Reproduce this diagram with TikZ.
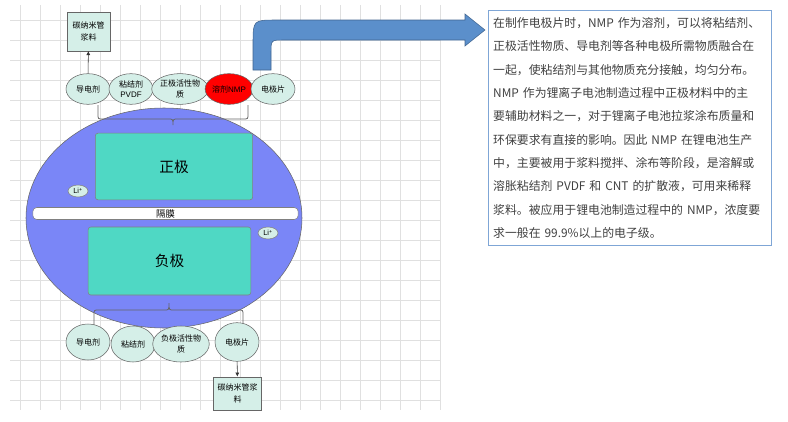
\documentclass[tikz,border=0pt]{standalone}
\usepackage{fontspec}
\setmainfont{Liberation Sans}
\newfontfamily\cjk{Noto Sans CJK SC}
\usetikzlibrary{arrows.meta,shapes.geometric}
\definecolor{pale}{HTML}{D5EFE8}
\definecolor{bigblue}{HTML}{7A86F7}
\definecolor{teal1}{HTML}{4FD8C4}
\definecolor{arrblue}{HTML}{5B8FCB}
\definecolor{boxline}{HTML}{7FA6D6}
\definecolor{txt}{HTML}{404040}
\tikzset{
  comp/.style={ellipse,draw=black!60,fill=pale,minimum width=33pt,minimum height=23pt,inner sep=0pt,font=\cjk\fontsize{6}{8}\selectfont,align=center},
  sbox/.style={rectangle,draw=black!60,fill=pale,inner sep=1pt,font=\cjk\fontsize{6}{9}\selectfont,align=center},
  elec/.style={rectangle,rounded corners=2pt,draw=black!50,fill=teal1,font=\cjk\fontsize{11}{12}\selectfont},
  li/.style={ellipse,draw=black!50,fill=pale,inner sep=0pt,minimum width=15pt,minimum height=9pt,font=\fontsize{5.5}{6}\selectfont},
  brc/.style={draw=black!60,line width=0.6pt},
  conn/.style={draw=black!80,-{Latex[length=3pt,width=3pt]}}
}
\begin{document}
\begin{tikzpicture}[x=0.75pt,y=-0.75pt]
\useasboundingbox (0,0) rectangle (788,421);
% grid
\draw[black!12,line width=0.4pt,step=15pt] (10,5) grid (440,410);
% top
\node[sbox,minimum width=32pt,minimum height=29pt] (cnt1) at (88.5,31.5) {碳纳米管\\浆料};
\node[comp] (a1) at (88,89) {导电剂};
\node[comp] (a2) at (131,89) {粘结剂\\\fontspec{Liberation Sans}PVDF};
\node[comp,minimum width=36pt] (a3) at (180,89) {正极活性物\\质};
\node[comp,fill=red] (a4) at (229,89) {溶剂\fontspec{Liberation Sans}NMP};
\node[comp] (a5) at (273,89) {电极片};
\draw[conn] (a1) -- (cnt1);
% big ellipse
\node[ellipse,draw=black!60,fill=bigblue,minimum width=207pt,minimum height=165pt] (cell) at (164,218) {};
\draw[brc] (98,105) -- (98,114) .. controls (98,119) .. (103,119) -- (168,119) .. controls (173,119) .. (173,125) .. controls (173,119) .. (178,119) -- (243,119) .. controls (248,119) .. (248,114) -- (248,105);
\node[elec,minimum width=118pt,minimum height=50pt] (pos) at (174,166.5) {正极};
\node[li] (li1) at (78,191) {Li\textsuperscript{+}};
\node[rectangle,rounded corners=3pt,draw=black!50,fill=white,minimum width=199pt,minimum height=9pt,inner sep=0pt,font=\cjk\fontsize{7}{8}\selectfont] (sep) at (165.5,213.5) {隔膜};
\node[li] (li2) at (268,233) {Li\textsuperscript{+}};
\node[elec,minimum width=122pt,minimum height=51pt] (neg) at (169.5,261) {负极};
% bottom brace
\draw[brc] (94,325) -- (94,315) .. controls (94,310) .. (99,310) -- (164,310) .. controls (169,310) .. (169,303) .. controls (169,310) .. (174,310) -- (238,310) .. controls (243,310) .. (243,315) -- (243,325);
\node[comp,minimum height=27pt] (c1) at (88,342) {导电剂};
\node[comp,minimum height=27pt] (c2) at (133,344) {粘结剂};
\node[comp,minimum width=36pt,minimum height=27pt] (c3) at (181,344) {负极活性物\\质};
\node[comp,minimum height=29pt] (c4) at (237,342) {电极片};
\node[sbox,minimum width=36pt,minimum height=25pt] (cnt2) at (237.5,393.5) {碳纳米管浆\\料};
\draw[conn] (c4) -- (cnt2);
% bent arrow
\fill[arrblue,draw=arrblue!70!black,line width=0.4pt] (253,70) -- (253,44) .. controls (253,20) .. (277,20) -- (465,20) -- (465,14) -- (485,30) -- (465,46) -- (465,40) -- (284,40) .. controls (271,40) .. (271,53) -- (271,70) -- cycle;
% text box
\node[draw=boxline,line width=0.8pt,anchor=north west,minimum width=212pt,minimum height=176pt,text width=205pt,inner xsep=3.5pt,inner ysep=5pt,align=left,text=txt,font=\cjk\fontsize{8.9}{17.5}\selectfont] (info) at (488,10) {在制作电极片时，NMP 作为溶剂，可以将粘结剂、\\正极活性物质、导电剂等各种电极所需物质融合在\\一起，使粘结剂与其他物质充分接触，均匀分布。\\NMP 作为锂离子电池制造过程中正极材料中的主\\要辅助材料之一，对于锂离子电池拉浆涂布质量和\\环保要求有直接的影响。因此 NMP 在锂电池生产\\中，主要被用于浆料搅拌、涂布等阶段，是溶解或\\溶胀粘结剂 PVDF 和 CNT 的扩散液，可用来稀释\\浆料。被应用于锂电池制造过程中的 NMP，浓度要\\求一般在 99.9\%以上的电子级。};
\end{tikzpicture}
\end{document}
